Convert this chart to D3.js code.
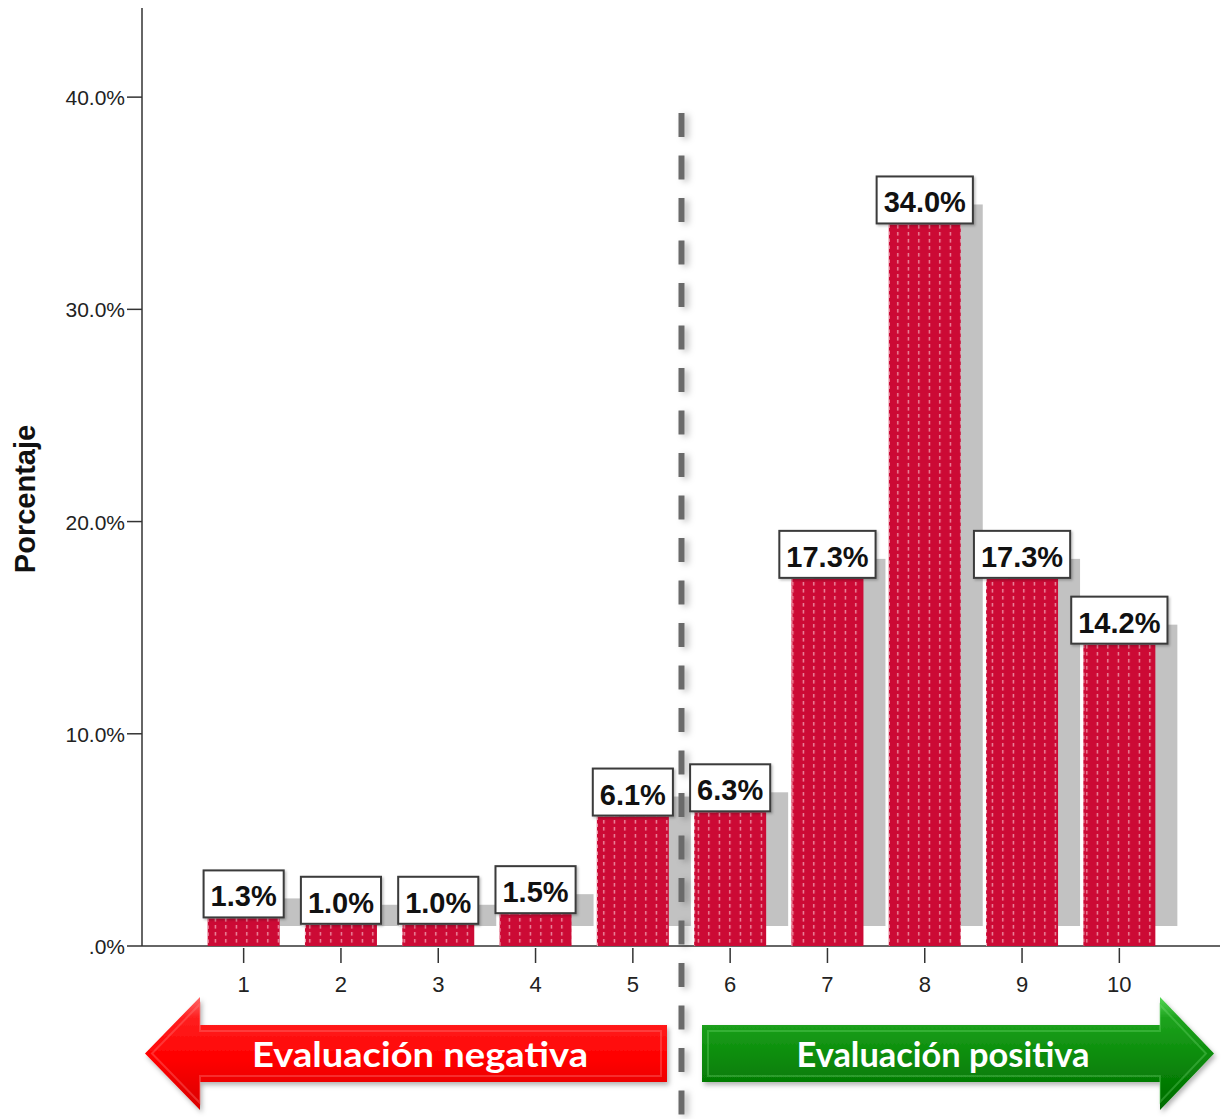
<!DOCTYPE html>
<html>
<head>
<meta charset="utf-8">
<script src="https://cdnjs.cloudflare.com/ajax/libs/d3/7.8.5/d3.min.js"></script>
<style>
  html, body { margin: 0; padding: 0; background: #fff; }
  svg { display: block; }
</style>
</head>
<body>
<svg id="chart" width="1222" height="1119"></svg>
<script>
// ---- data ----
const categories = ["1", "2", "3", "4", "5", "6", "7", "8", "9", "10"];
const values = [1.3, 1.0, 1.0, 1.5, 6.1, 6.3, 17.3, 34.0, 17.3, 14.2];
const valueLabels = ["1.3%", "1.0%", "1.0%", "1.5%", "6.1%", "6.3%", "17.3%", "34.0%", "17.3%", "14.2%"];
const yTicks = [0, 10, 20, 30, 40];
const yTickLabels = [".0%", "10.0%", "20.0%", "30.0%", "40.0%"];
const yTitle = "Porcentaje";
const arrowLabels = ["Evaluación negativa", "Evaluación positiva"];

const svg = d3.select("#chart");
const defs = svg.append("defs");

// pattern for bars: crimson with dotted light lines
const pat = defs.append("pattern").attr("id", "barPat")
  .attr("patternUnits", "userSpaceOnUse").attr("width", 10.5).attr("height", 7);
pat.append("rect").attr("width", 10.5).attr("height", 7).attr("fill", "#cc0a35");
pat.append("rect").attr("x", 4.7).attr("y", 1).attr("width", 1.3).attr("height", 3.6).attr("fill", "#f099ac");

// arrow gradients
const gR = defs.append("linearGradient").attr("id", "gRed").attr("x1", 0).attr("y1", 0).attr("x2", 0).attr("y2", 1);
gR.append("stop").attr("offset", "0%").attr("stop-color", "#ff6a6a");
gR.append("stop").attr("offset", "18%").attr("stop-color", "#ff2020");
gR.append("stop").attr("offset", "55%").attr("stop-color", "#ff0000");
gR.append("stop").attr("offset", "100%").attr("stop-color", "#d80000");
const gG = defs.append("linearGradient").attr("id", "gGreen").attr("x1", 0).attr("y1", 0).attr("x2", 0).attr("y2", 1);
gG.append("stop").attr("offset", "0%").attr("stop-color", "#55d855");
gG.append("stop").attr("offset", "18%").attr("stop-color", "#1fa41f");
gG.append("stop").attr("offset", "55%").attr("stop-color", "#0a8a0a");
gG.append("stop").attr("offset", "100%").attr("stop-color", "#006a00");

const sh = defs.append("filter").attr("id", "shadow").attr("x", "-20%").attr("y", "-20%").attr("width", "140%").attr("height", "150%");
sh.append("feDropShadow").attr("dx", 2).attr("dy", 3).attr("stdDeviation", 2.5).attr("flood-color", "#000").attr("flood-opacity", 0.3);
const sh2 = defs.append("filter").attr("id", "shadow2").attr("filterUnits", "userSpaceOnUse")
  .attr("x", 600).attr("y", 90).attr("width", 160).attr("height", 1040);
sh2.append("feDropShadow").attr("dx", 4).attr("dy", 2).attr("stdDeviation", 3).attr("flood-color", "#000").attr("flood-opacity", 0.25);
const sh3 = defs.append("filter").attr("id", "shadow3").attr("x", "-10%").attr("y", "-10%").attr("width", "130%").attr("height", "130%");
sh3.append("feDropShadow").attr("dx", 1.5).attr("dy", 1.5).attr("stdDeviation", 1).attr("flood-color", "#000").attr("flood-opacity", 0.25);

// ---- scales ----
const y = d3.scaleLinear().domain([0, 44.2]).range([946, 8]);
const x = d3.scaleBand().domain(categories).range([195, 1168]).paddingInner(0.26).paddingOuter(0.13);
const bw = x.bandwidth();
const axisX0 = 142, axisX1 = 1220;
const shadowDx = 22, shadowDy = -20;

const data = categories.map((c, i) => ({ c, v: values[i], label: valueLabels[i] }));

// ---- axes ----
svg.append("line").attr("x1", axisX0).attr("x2", axisX1).attr("y1", y(0)).attr("y2", y(0))
  .attr("stroke", "#333").attr("stroke-width", 1.5);
svg.append("line").attr("x1", axisX0).attr("x2", axisX0).attr("y1", y(0)).attr("y2", y.range()[1])
  .attr("stroke", "#333").attr("stroke-width", 1.5);

const yAx = svg.append("g");
yTicks.forEach((t, i) => {
  yAx.append("line").attr("x1", axisX0 - 15).attr("x2", axisX0).attr("y1", y(t)).attr("y2", y(t))
    .attr("stroke", "#333").attr("stroke-width", 1.5);
  yAx.append("text").attr("x", axisX0 - 17).attr("y", y(t) + 8)
    .attr("text-anchor", "end").attr("font-family", "Liberation Sans, Arial, sans-serif")
    .attr("font-size", 21).attr("fill", "#222").text(yTickLabels[i]);
});

svg.append("text")
  .attr("transform", `translate(35, ${(y(0) + y.range()[1]) / 2 + 22}) rotate(-90)`)
  .attr("text-anchor", "middle").attr("font-family", "Liberation Sans, Arial, sans-serif")
  .attr("font-weight", "bold").attr("font-size", 29).attr("fill", "#111").text(yTitle);

const xAx = svg.append("g");
categories.forEach(c => {
  const cx = x(c) + bw / 2;
  xAx.append("line").attr("x1", cx).attr("x2", cx).attr("y1", y(0) + 2).attr("y2", y(0) + 17)
    .attr("stroke", "#333").attr("stroke-width", 1.5);
  xAx.append("text").attr("x", cx).attr("y", y(0) + 46)
    .attr("text-anchor", "middle").attr("font-family", "Liberation Sans, Arial, sans-serif")
    .attr("font-size", 22).attr("fill", "#222").text(c);
});

// ---- shadows of bars ----
svg.append("g").selectAll("rect").data(data).join("rect")
  .attr("x", d => x(d.c) + shadowDx).attr("y", d => y(d.v) + shadowDy)
  .attr("width", bw).attr("height", d => y(0) - y(d.v))
  .attr("fill", "#c2c2c2");

// ---- bars ----
svg.append("g").selectAll("rect").data(data).join("rect")
  .attr("x", d => x(d.c)).attr("y", d => y(d.v))
  .attr("width", bw).attr("height", d => y(0) - y(d.v))
  .attr("fill", "url(#barPat)");
// light edge line on bars
svg.append("g").selectAll("line").data(data).join("line")
  .attr("x1", d => x(d.c) + 0.5).attr("x2", d => x(d.c) + 0.5)
  .attr("y1", d => y(d.v)).attr("y2", y(0))
  .attr("stroke", "#f2b0be").attr("stroke-width", 1).attr("stroke-dasharray", "3.5,3.5");

// ---- dashed separator ----
const sepX = (x("5") + x("6")) / 2 + bw / 2;
svg.append("g").attr("filter", "url(#shadow2)")
  .append("line").attr("x1", sepX).attr("x2", sepX).attr("y1", 113).attr("y2", 1119)
  .attr("stroke", "#6b6b6b").attr("stroke-width", 6).attr("stroke-dasharray", "24,18.5");

// ---- value labels ----
const lab = svg.append("g").selectAll("g").data(data).join("g");
lab.each(function(d) {
  const g = d3.select(this);
  const cx = x(d.c) + bw / 2;
  const top = y(d.v);
  const t = g.append("text").attr("x", cx).attr("y", top - 12)
    .attr("text-anchor", "middle").attr("font-family", "Liberation Sans, Arial, sans-serif")
    .attr("font-weight", "bold").attr("font-size", 29).attr("fill", "#111").text(d.label);
  const w = t.node().getComputedTextLength() + 14;
  g.insert("rect", "text").attr("x", cx - w / 2).attr("y", top - 48).attr("width", w).attr("height", 47)
    .attr("fill", "#fff").attr("stroke", "#3a3a3a").attr("stroke-width", 2)
    .attr("filter", "url(#shadow3)");
});

// ---- arrows ----
const aTop = 997, aBot = 1110, bTop = 1025, bBot = 1082, aMid = (aTop + aBot) / 2;
const redPts = [[145, aMid], [200, aTop], [200, bTop], [667, bTop], [667, bBot], [200, bBot], [200, aBot]];
const greenPts = [[702, bTop], [1160, bTop], [1160, aTop], [1214, aMid], [1160, aBot], [1160, bBot], [702, bBot]];
const line = d3.line();
svg.append("path").attr("d", line(redPts) + "Z").attr("fill", "url(#gRed)").attr("filter", "url(#shadow)");
svg.append("path").attr("d", line(greenPts) + "Z").attr("fill", "url(#gGreen)").attr("filter", "url(#shadow)");
// bevel highlights
svg.append("path").attr("d", line([[152, aMid], [200, 1004], [200, bTop + 6], [661, bTop + 6], [661, bBot - 6], [200, bBot - 6], [200, aBot - 7]]) + "Z")
  .attr("fill", "none").attr("stroke", "#ff8080").attr("stroke-opacity", 0.35).attr("stroke-width", 2);
svg.append("path").attr("d", line([[708, bTop + 6], [1160, bTop + 6], [1160, aTop + 8], [1206, aMid], [1160, aBot - 8], [1160, bBot - 6], [708, bBot - 6]]) + "Z")
  .attr("fill", "none").attr("stroke", "#7de07d").attr("stroke-opacity", 0.3).attr("stroke-width", 2);

svg.append("text").attr("x", 420).attr("y", 1067).attr("text-anchor", "middle")
  .attr("font-family", "Lato, 'Open Sans', sans-serif").attr("font-weight", "bold").attr("font-size", 34)
  .attr("fill", "#fff").attr("textLength", 336).attr("lengthAdjust", "spacingAndGlyphs").text(arrowLabels[0]);
svg.append("text").attr("x", 943).attr("y", 1067).attr("text-anchor", "middle")
  .attr("font-family", "Lato, 'Open Sans', sans-serif").attr("font-weight", "bold").attr("font-size", 34)
  .attr("fill", "#fff").attr("textLength", 293).attr("lengthAdjust", "spacingAndGlyphs").text(arrowLabels[1]);
</script>
</body>
</html>
